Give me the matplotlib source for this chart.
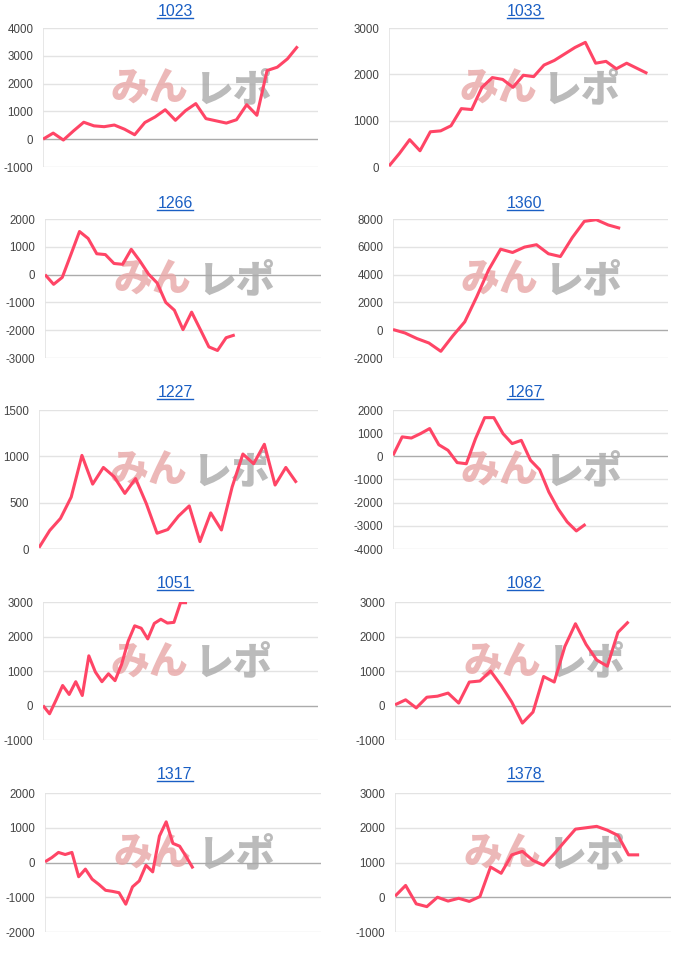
import matplotlib
matplotlib.use('Agg')
import matplotlib.pyplot as plt
from matplotlib.lines import Line2D

# ---------------- data ----------------
titles = ["1023", "1033", "1266", "1360", "1227", "1267", "1051", "1082", "1317", "1378"]

v1023 = [0, 220, -30, 300, 610, 480, 450, 510, 360, 160, 600, 800, 1060, 680, 1030,
         1280, 740, 660, 580, 700, 1240, 860, 2470, 2590, 2890, 3340]
v1033 = [20, 290, 590, 350, 760, 780, 890, 1260, 1240, 1720, 1930, 1890, 1720, 1980,
         1950, 2200, 2300, 2440, 2580, 2690, 2240, 2280, 2120, 2240, 2130, 2020]
v1266 = [0, -350, -100, 720, 1550, 1300, 750, 720, 400, 370, 910, 490, 20, -300,
         -1000, -1280, -1980, -1350, -1970, -2600, -2730, -2270, -2170]
v1360 = [50, -200, -600, -920, -1520, -410, 600, 2400, 4340, 5830, 5590, 5980, 6150,
         5500, 5300, 6670, 7830, 7950, 7570, 7330]
v1227 = [15, 200, 330, 560, 1010, 700, 880, 780, 600, 760, 490, 170, 210, 355, 465,
         80, 390, 205, 670, 1025, 920, 1130, 690, 880, 715]
v1267 = [40, 840, 790, 980, 1200, 500, 260, -270, -320, 760, 1670, 1670, 980, 550,
         690, -170, -580, -1540, -2260, -2830, -3220, -2930]
v1051 = [0, -240, 160, 580, 320, 690, 290, 1440, 970, 690, 920, 720, 1190, 1860,
         2310, 2240, 1930, 2380, 2500, 2390, 2410, 2980, 2980]
v1082 = [20, 165, -70, 240, 270, 360, 70, 680, 710, 1000, 580, 100, -510, -190, 840,
         680, 1710, 2370, 1770, 1320, 1140, 2120, 2430]
v1317 = [20, 140, 290, 230, 290, -410, -190, -480, -630, -800, -830, -870, -1200,
         -700, -530, -80, -270, 760, 1170, 550, 470, 160, -170]
v1378 = [30, 340, -190, -270, 0, -110, -30, -120, 20, 870, 690, 1220, 1320, 1060, 920,
         1250, 1610, 1960, 2000, 2040, 1930, 1780, 1220, 1220]

series = [v1023, v1033, v1266, v1360, v1227, v1267, v1051, v1082, v1317, v1378]

# number of x-category slots on each chart's horizontal axis
x_slots = [27, 27, 32, 23, 26, 30, 42, 26, 41, 26]

# y tick values
yticks_list = [
    [-1000, 0, 1000, 2000, 3000, 4000],
    [0, 1000, 2000, 3000],
    [-3000, -2000, -1000, 0, 1000, 2000],
    [-2000, 0, 2000, 4000, 6000, 8000],
    [0, 500, 1000, 1500],
    [-4000, -3000, -2000, -1000, 0, 1000, 2000],
    [-1000, 0, 1000, 2000, 3000],
    [-1000, 0, 1000, 2000, 3000],
    [-2000, -1000, 0, 1000, 2000],
    [-1000, 0, 1000, 2000, 3000],
]

# ---------------- layout (pixels) ----------------
W, H = 700, 955
lefts = [43, 389, 45, 393, 39, 393, 43, 395, 45, 395]
rights = [318, 668, 321, 668, 318, 668, 318, 671, 321, 671]
row_tops = [28, 219, 410, 602, 793]
row_bots = [167, 358, 549, 740, 932]
title_y = [11, 203, 392, 583, 774]

LINE = '#ff4566'
GRID = '#e3e3e3'
BASE = '#ababab'
LINK = '#1a5fc4'

plt.rcParams['font.family'] = ['Liberation Sans', 'DejaVu Sans']

fig = plt.figure(figsize=(W / 100, H / 100), dpi=100)
fig.patch.set_facecolor('white')

title_texts = []
for i, (t, vals) in enumerate(zip(titles, series)):
    r, c = divmod(i, 2)
    l, rr = lefts[i], rights[i]
    top, bot = row_tops[r], row_bots[r]
    ax = fig.add_axes([l / W, 1 - bot / H, (rr - l) / W, (bot - top) / H])
    ticks = yticks_list[i]
    ax.set_ylim(ticks[0], ticks[-1])
    ax.set_xlim(0, x_slots[i])
    for tv in ticks:
        ax.axhline(tv, color=BASE if tv == 0 else GRID, lw=1.0, zorder=1)
    ax.axvline(0, color=GRID, lw=1.2, zorder=1)
    for s in ax.spines.values():
        s.set_visible(False)
    ax.set_xticks([])
    ax.set_yticks(ticks)
    ax.set_yticklabels([str(tv) for tv in ticks])
    ax.tick_params(axis='y', length=0, pad=7, labelsize=8.3, labelcolor='#444444')
    ax.set_facecolor('none')

    # watermark
    ax.text(0.53, 0.56, 'みん', transform=ax.transAxes, ha='right', va='center',
            fontsize=28, fontweight='heavy', color='#e8a6a6', alpha=0.8,
            family=['Noto Sans CJK JP', 'DejaVu Sans'], zorder=2)
    ax.text(0.55, 0.56, 'レポ', transform=ax.transAxes, ha='left', va='center',
            fontsize=28, fontweight='heavy', color='#aaaaaa', alpha=0.8,
            family=['Noto Sans CJK JP', 'DejaVu Sans'], zorder=2)

    ax.plot(range(len(vals)), vals, color=LINE, lw=2.2, solid_joinstyle='round',
            solid_capstyle='butt', zorder=5)

    cx = (175 + 350 * c) / W
    ty = 1 - title_y[r] / H
    tt = fig.text(cx, ty, t, ha='center', va='center', fontsize=11.5, color=LINK)
    title_texts.append((tt, r))

fig.canvas.draw()
renderer = fig.canvas.get_renderer()
for tt, r in title_texts:
    bb = tt.get_window_extent(renderer)
    uy = 1 - (title_y[r] + 7) / H
    fig.add_artist(Line2D([bb.x0 / W, bb.x1 / W], [uy, uy], color=LINK, lw=1.0,
                          transform=fig.transFigure))

fig.savefig('out.png', dpi=100, facecolor='white')
